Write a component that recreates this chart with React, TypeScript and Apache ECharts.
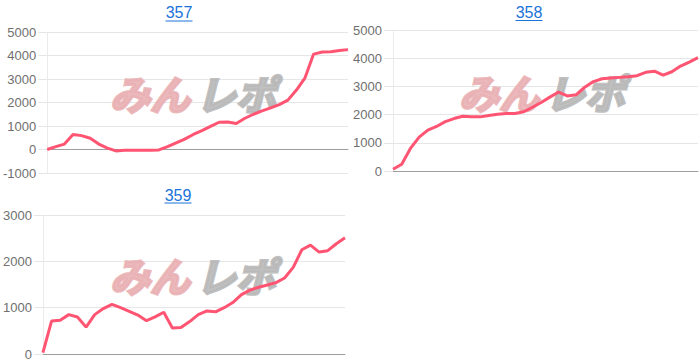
import React, { useEffect, useRef } from "react";
import * as echarts from "echarts";

const titles = ["357", "358", "359"];
const values357 = [0, 120, 230, 640, 590, 480, 230, 60, -60, -30, -30, -30, -30, -20, 120, 280, 440, 640, 800, 980, 1160, 1170, 1110, 1330, 1500, 1640, 1770, 1910, 2100, 2530, 3050, 4060, 4150, 4160, 4210, 4250];
const values358 = [60, 240, 800, 1200, 1450, 1580, 1750, 1860, 1940, 1920, 1920, 1970, 2010, 2040, 2040, 2100, 2260, 2430, 2620, 2800, 2660, 2700, 2970, 3170, 3270, 3300, 3320, 3340, 3380, 3500, 3540, 3400, 3520, 3720, 3860, 4020];
const values359 = [30, 710, 730, 850, 800, 580, 850, 980, 1070, 1000, 920, 840, 720, 800, 900, 560, 570, 700, 850, 930, 910, 1000, 1110, 1280, 1380, 1440, 1490, 1540, 1640, 1870, 2250, 2350, 2200, 2230, 2380, 2510];
const yMins = [-1000, 0, 0];
const yMaxs = [5000, 5000, 3000];

const LINE_COLOR = "#ff5472";
const TITLE_COLOR = "#1a73d9";

export default function App() {
  const ref = useRef<HTMLDivElement>(null);
  useEffect(() => {
    if (!ref.current) return;
    const chart = echarts.init(ref.current, undefined, { renderer: "svg" });
    const allValues = [values357, values358, values359];
    const grids = [
      { left: 46, top: 32, width: 302, height: 141 },
      { left: 393, top: 30, width: 305, height: 141 },
      { left: 41, top: 215, width: 304, height: 139 },
    ];
    const titlePos = [
      [179, 12.5, 21],
      [529, 12, 20.5],
      [178, 195.5, 203],
    ];
    const wmPos = [
      [110, 93],
      [459, 92],
      [110, 275],
    ];
    const graphic: any[] = [];
    titles.forEach((t, i) => {
      const [cx, cy, uy] = titlePos[i];
      graphic.push({
        type: "text",
        x: cx,
        y: cy,
        style: {
          text: t,
          fill: TITLE_COLOR,
          font: "16px 'Liberation Sans', Arial, sans-serif",
          textAlign: "center",
          textVerticalAlign: "middle",
        },
        z: 10,
      });
      graphic.push({
        type: "line",
        shape: { x1: cx - 13.5, y1: uy, x2: cx + 13.5, y2: uy },
        style: { stroke: TITLE_COLOR, lineWidth: 1 },
        z: 10,
      });
      const [wx, wy] = wmPos[i];
      graphic.push({
        type: "text",
        x: wx,
        y: wy,
        style: {
          text: "みん",
          fill: "#e9b0b3",
          stroke: "#e9b0b3",
          lineWidth: 3,
          font: "italic bold 40px 'Noto Sans CJK JP', sans-serif",
          textVerticalAlign: "middle",
          opacity: 0.9,
        },
        z: 1,
      });
      graphic.push({
        type: "text",
        x: wx + 86,
        y: wy,
        style: {
          text: "レポ",
          fill: "#b8b8b8",
          stroke: "#b8b8b8",
          lineWidth: 3,
          font: "italic bold 40px 'Noto Sans CJK JP', sans-serif",
          textVerticalAlign: "middle",
          opacity: 0.9,
        },
        z: 1,
      });
    });

    const option: any = {
      animation: false,
      grid: grids.map((g) => ({ ...g, containLabel: false })),
      xAxis: allValues.map((vals, i) => ({
        type: "category",
        gridIndex: i,
        boundaryGap: false,
        data: vals.map((_, k) => String(k + 1)),
        axisLine: { show: true, onZero: true, lineStyle: { color: "#9e9e9e", width: 1 } },
        axisTick: { show: false },
        axisLabel: { show: false },
        splitLine: { show: false },
      })),
      yAxis: allValues.map((_, i) => ({
        type: "value",
        gridIndex: i,
        min: yMins[i],
        max: yMaxs[i],
        interval: 1000,
        axisLine: { show: true, lineStyle: { color: "#ebebeb" } },
        axisTick: { show: true, length: 9, lineStyle: { color: "#e6e6e6" } },
        axisLabel: {
          color: "#6f6f6f",
          fontSize: 13,
          fontFamily: "'Liberation Sans', Arial, sans-serif",
          margin: 11,
          formatter: (v: number) => String(v),
        },
        splitLine: { show: true, lineStyle: { color: "#e6e6e6", width: 1 } },
      })),
      series: allValues.map((vals, i) => ({
        type: "line",
        xAxisIndex: i,
        yAxisIndex: i,
        data: vals,
        showSymbol: false,
        lineStyle: { color: LINE_COLOR, width: 3 },
        itemStyle: { color: LINE_COLOR },
        z: 5,
      })),
      graphic,
    };
    chart.setOption(option);
    return () => chart.dispose();
  }, []);
  return (
    <div
      ref={ref}
      style={{ position: "absolute", left: 0, top: 0, width: 700, height: 363, background: "#fff" }}
    />
  );
}
